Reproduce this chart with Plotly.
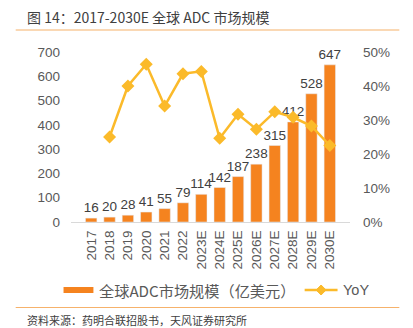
import plotly.graph_objects as go

years = ["2017", "2018", "2019", "2020", "2021", "2022", "2023E", "2024E",
         "2025E", "2026E", "2027E", "2028E", "2029E", "2030E"]
market = [16, 20, 28, 41, 55, 79, 114, 142, 187, 238, 315, 412, 528, 647]
yoy = [None, 0.25, 0.40, 0.464, 0.341, 0.436, 0.443, 0.246,
       0.317, 0.273, 0.324, 0.308, 0.282, 0.225]

bar_name = "全球ADC市场规模（亿美元）"
line_name = "YoY"
title_text = "图 14：2017-2030E 全球 ADC 市场规模"
source_text = "资料来源：药明合联招股书，天风证券研究所"

FONT = "Liberation Sans, Noto Sans CJK SC, sans-serif"
CJK = "Noto Sans CJK SC, Liberation Sans, sans-serif"
BAR_C = "#F5831F"
LINE_C = "#FBBA2A"
GREY = "#595959"

fig = go.Figure()
fig.add_trace(go.Bar(
    x=years, y=market, name=bar_name, marker_color=BAR_C, width=0.62,
    text=[str(v) for v in market], textposition="outside", constraintext="none",
    textfont=dict(family=FONT, size=13.5, color="#404040"), cliponaxis=False,
))
fig.add_trace(go.Scatter(
    x=years, y=yoy, name=line_name, yaxis="y2", mode="lines+markers",
    line=dict(color=LINE_C, width=2.5),
    marker=dict(symbol="diamond", size=10, color=LINE_C),
))

fig.update_layout(
    width=413, height=328,
    margin=dict(l=70.5, r=62.5, t=52, b=106),
    plot_bgcolor="white", paper_bgcolor="white",
    showlegend=False, bargap=0.38,
    font=dict(family=FONT, color=GREY, size=13),
    xaxis=dict(tickangle=-90, showgrid=False, showline=True, linecolor="#D9D9D9",
               linewidth=1, ticks="", ticklabelstandoff=2,
               tickfont=dict(size=13.5, color=GREY)),
    yaxis=dict(range=[0, 700], dtick=100, showgrid=False, zeroline=False,
               ticks="", ticklabelstandoff=10, tickfont=dict(size=13.5, color=GREY)),
    yaxis2=dict(range=[0, 0.5], dtick=0.1, tickformat=".0%", overlaying="y",
                side="right", showgrid=False, zeroline=False, ticks="",
                ticklabelstandoff=12, tickfont=dict(size=13.5, color=GREY)),
)

# convert pixel coords to paper coords
def px(x):
    return (x - 70.5) / 280
def py(y):
    return (222 - y) / 170

cx, cy = (305 + 338) / 2, 290
d = 5
diamond = "M {},{} L {},{} L {},{} L {},{} Z".format(
    px(cx), py(cy - d), px(cx + d), py(cy), px(cx), py(cy + d), px(cx - d), py(cy))

fig.update_layout(shapes=[
    dict(type="line", xref="paper", yref="paper", x0=px(15), x1=px(400),
         y0=py(30), y1=py(30), line=dict(color="#F6B26B", width=1.2)),
    dict(type="line", xref="paper", yref="paper", x0=px(15), x1=px(400),
         y0=py(307.5), y1=py(307.5), line=dict(color="#F6B26B", width=1.2)),
    dict(type="rect", xref="paper", yref="paper", x0=px(63), x1=px(93),
         y0=py(293), y1=py(287), fillcolor=BAR_C, line=dict(width=0)),
    dict(type="line", xref="paper", yref="paper", x0=px(305), x1=px(338),
         y0=py(290), y1=py(290), line=dict(color=LINE_C, width=2.5)),
    dict(type="path", xref="paper", yref="paper", path=diamond,
         fillcolor=LINE_C, line=dict(color=LINE_C, width=1)),
])

anns = [
    dict(text=title_text, x=px(24), y=py(17), xanchor="left", yanchor="middle",
         font=dict(family=CJK, size=14, color="#404040")),
    dict(text=bar_name, x=px(97), y=py(290), xanchor="left", yanchor="middle",
         font=dict(family=CJK, size=15.2, color=GREY)),
    dict(text=line_name, x=px(341), y=py(290), xanchor="left", yanchor="middle",
         font=dict(family=FONT, size=14.5, color=GREY)),
    dict(text=source_text, x=px(24), y=py(320), xanchor="left", yanchor="middle",
         font=dict(family=CJK, size=11, color="#404040")),
]
for a in anns:
    a.update(xref="paper", yref="paper", showarrow=False)
fig.update_layout(annotations=anns)

fig.write_html("out.html")
